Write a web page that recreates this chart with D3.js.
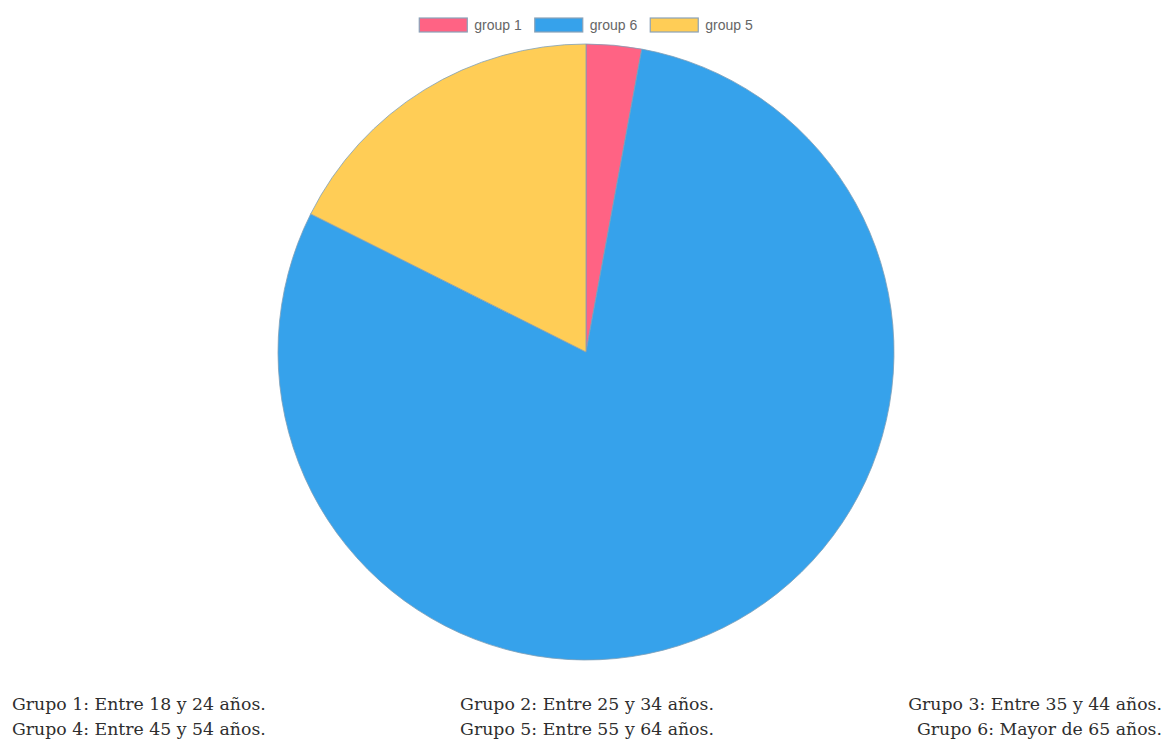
<!DOCTYPE html>
<html>
<head>
<meta charset="utf-8">
<script src="https://cdnjs.cloudflare.com/ajax/libs/d3/7.8.5/d3.min.js"></script>
<style>
  body { margin: 0; background: #fff; }
  svg { display: block; }
</style>
</head>
<body>
<div id="chart"></div>
<script>
// slices, in drawing order (clockwise from 12 o'clock)
var labels = ["group 1", "group 6", "group 5"];
var values = [2.9, 79.5, 17.6];
var colors = ["rgb(255,99,132)", "rgb(54,162,235)", "rgb(255,205,86)"];

// footnote lines, by column
var notesLeft = ["Grupo 1: Entre 18 y 24 años.", "Grupo 4: Entre 45 y 54 años."];
var notesMid = ["Grupo 2: Entre 25 y 34 años.", "Grupo 5: Entre 55 y 64 años."];
var notesRight = ["Grupo 3: Entre 35 y 44 años.", "Grupo 6: Mayor de 65 años."];

var width = 1165, height = 745;
var cx = 586, cy = 352, radius = 308;

var svg = d3.select("#chart").append("svg")
  .attr("width", width)
  .attr("height", height);

// pie
var pie = d3.pie().sort(null).value(function(d) { return d; });
var arc = d3.arc().innerRadius(0).outerRadius(radius);

var g = svg.append("g").attr("transform", "translate(" + cx + "," + cy + ")");
g.selectAll("path")
  .data(pie(values))
  .enter()
  .append("path")
  .attr("d", arc)
  .attr("fill", function(d, i) { return colors[i]; })
  .attr("stroke", "#7f9fb8")
  .attr("stroke-width", 0.8);

// legend
var legend = svg.append("g");
var boxW = 48, boxH = 14, gap = 7, itemPad = 13;
var items = legend.selectAll("g.item")
  .data(labels)
  .enter()
  .append("g")
  .attr("class", "item");

items.append("rect")
  .attr("width", boxW)
  .attr("height", boxH)
  .attr("fill", function(d, i) { return colors[i]; })
  .attr("stroke", "#8aa2b8")
  .attr("stroke-width", 1.2);

items.append("text")
  .attr("x", boxW + gap)
  .attr("y", boxH / 2)
  .attr("dy", "0.35em")
  .style("font-family", "'Liberation Sans', Arial, sans-serif")
  .style("font-size", "14px")
  .style("fill", "#666")
  .text(function(d) { return d; });

var xs = [], x = 0;
items.each(function() {
  xs.push(x);
  x += boxW + gap + this.querySelector("text").getComputedTextLength() + itemPad;
});
var total = x - itemPad;
var start = cx - total / 2;
items.attr("transform", function(d, i) { return "translate(" + (start + xs[i]) + ",18)"; });

// footnotes - original uses a serif webfont; DejaVu Serif is squeezed a bit to fit
var notes = svg.append("g")
  .style("font-family", "'DejaVu Serif', 'Liberation Serif', serif")
  .style("font-size", "17.5px")
  .style("fill", "#2e2e2e");

var probe = notes.append("text").text(notesLeft[0]);
var sx = 254 / probe.node().getComputedTextLength();
probe.remove();

function column(lines, xpos, anchor) {
  notes.selectAll(null)
    .data(lines)
    .enter()
    .append("text")
    .attr("transform", function(d, i) {
      return "translate(" + xpos + "," + (710 + i * 25) + ") scale(" + sx + ",1)";
    })
    .attr("text-anchor", anchor)
    .text(function(d) { return d; });
}
column(notesLeft, 12, "start");
column(notesMid, 587, "middle");
column(notesRight, 1162, "end");
</script>
</body>
</html>
